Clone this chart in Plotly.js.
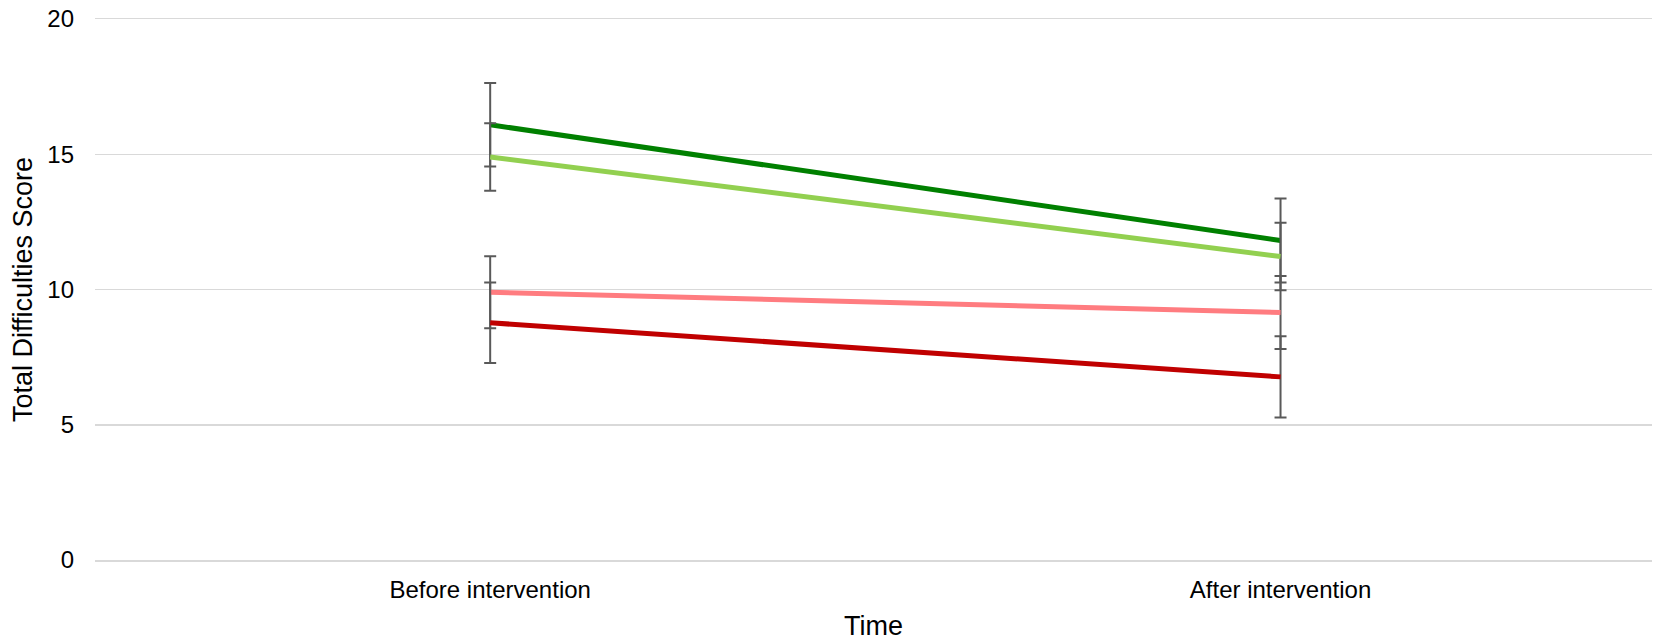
<!DOCTYPE html>
<html>
<head>
<meta charset="utf-8">
<script src="https://cdn.plot.ly/plotly-3.0.1.min.js"></script>
<style>html,body{margin:0;padding:0;background:#fff;}#chart{width:1654px;height:641px;}</style>
</head>
<body>
<div id="chart"></div>
<script>
const categories = ["Before intervention", "After intervention"];
const seriesNames = ["Series A", "Series B", "Series C", "Series D"];
const darkGreen = [16.09, 11.81];
const lightGreen = [14.90, 11.22];
const pink = [9.90, 9.15];
const red = [8.77, 6.77];
const errDarkGreen = [1.54, 1.55];
const errLightGreen = [1.25, 1.25];
const errPink = [1.33, 1.35];
const errRed = [1.49, 1.50];
const colors = ["#008000", "#92D050", "#FF7C80", "#C00000"];

const values = [darkGreen, lightGreen, pink, red];
const errs = [errDarkGreen, errLightGreen, errPink, errRed];

const traces = values.map((v, i) => ({
  type: "scatter",
  mode: "lines",
  name: seriesNames[i],
  x: categories,
  y: v,
  line: {color: colors[i], width: 5},
  error_y: {type: "data", array: errs[i], visible: true, color: "#595959", thickness: 2, width: 6},
  showlegend: false
}));

const layout = {
  width: 1654, height: 641,
  margin: {l: 95, r: 2, t: 19, b: 81},
  paper_bgcolor: "#fff", plot_bgcolor: "#fff",
  font: {family: "Liberation Sans, Arial, sans-serif", color: "#000"},
  xaxis: {
    type: "category",
    range: [-0.5, 1.47],
    showgrid: false, zeroline: false,
    showline: true, mirror: true, linecolor: "#d9d9d9", linewidth: 1.5,
    ticks: "",
    tickfont: {size: 24, color: "#000"},
    ticklabelstandoff: 8,
    title: {text: "Time", font: {size: 27, color: "#000"}, standoff: 20}
  },
  yaxis: {
    range: [0, 20],
    tickvals: [0, 5, 10, 15, 20],
    showgrid: true, gridcolor: "#d9d9d9", gridwidth: 1.5,
    zeroline: false, showline: false,
    ticks: "",
    tickfont: {size: 24, color: "#000"},
    ticklabelstandoff: 20,
    title: {text: "Total Difficulties Score", font: {size: 27, color: "#000"}, standoff: 6}
  }
};

Plotly.newPlot("chart", traces, layout, {displayModeBar: false, staticPlot: true});
</script>
</body>
</html>
